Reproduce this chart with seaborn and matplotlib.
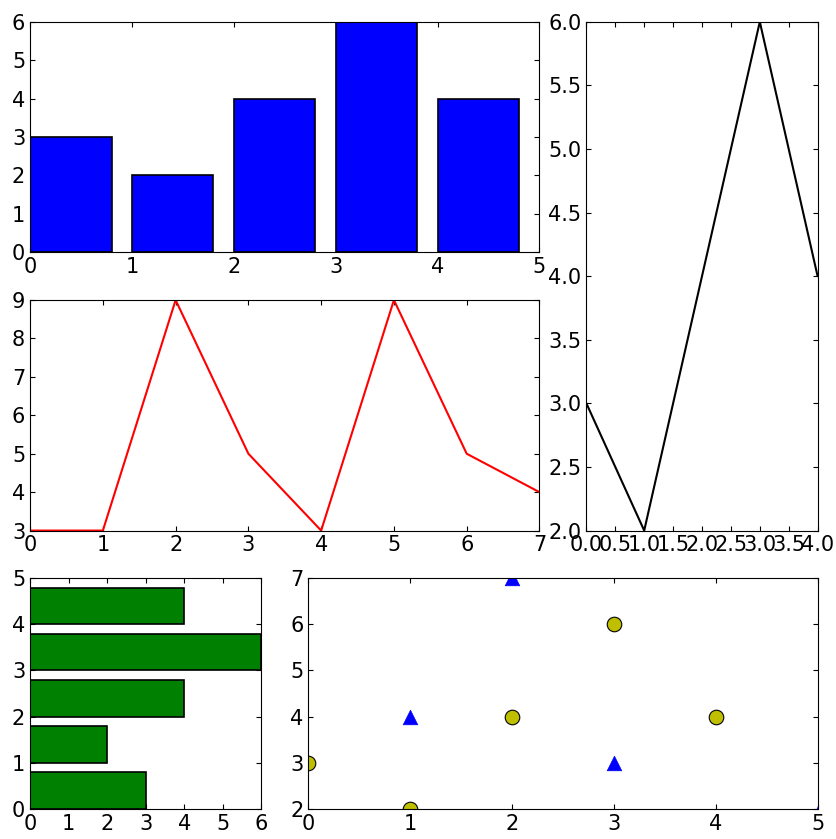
import numpy as np
import pandas as pd
import matplotlib
matplotlib.use('Agg')
import matplotlib.pyplot as plt
import seaborn as sns

# data
bar_pos = [0, 1, 2, 3, 4]
bar_vals = [3, 2, 4, 6, 4]

line_x = [0, 1, 2, 3, 4]
line_y = [3, 2, 4, 6, 4]

red_x = [0, 1, 2, 3, 4, 5, 6, 7]
red_y = [3, 3, 9, 5, 3, 9, 5, 4]

circ_x = [0, 1, 2, 3, 4]
circ_y = [3, 2, 4, 6, 4]
tri_x = [1, 2, 3, 5]
tri_y = [4, 7, 3, 1.9]

sns.set_style('ticks', rc={
    'xtick.direction': 'in', 'ytick.direction': 'in',
    'xtick.top': True, 'ytick.right': True,
    'xtick.major.size': 6.5, 'ytick.major.size': 6.5,
    'xtick.major.width': 1.0, 'ytick.major.width': 1.0,
    'xtick.major.pad': 5, 'ytick.major.pad': 5,
    'axes.linewidth': 1.3, 'axes.edgecolor': 'black',
    'xtick.color': 'black', 'ytick.color': 'black',
})
plt.rcParams['font.family'] = ['DejaVu Sans']
plt.rcParams['font.size'] = 15
plt.rcParams['xtick.labelsize'] = 15
plt.rcParams['ytick.labelsize'] = 15

fig = plt.figure(figsize=(8.36, 8.39), dpi=100)
gs = fig.add_gridspec(3, 3, left=0.036, right=0.978, top=0.974, bottom=0.036,
                      wspace=0.203, hspace=0.207)
ax1 = fig.add_subplot(gs[0, :2])
ax2 = fig.add_subplot(gs[:2, 2])
ax3 = fig.add_subplot(gs[1, :2])
ax4 = fig.add_subplot(gs[2, 0])
ax5 = fig.add_subplot(gs[2, 1:])

# top-left vertical bars (left edge aligned, width 0.8)
df_bar = pd.DataFrame({'pos': np.array(bar_pos) + 0.4, 'val': bar_vals})
sns.barplot(data=df_bar, x='pos', y='val', native_scale=True, color='blue',
            saturation=1, edgecolor='black', linewidth=1.2, width=0.8, ax=ax1)
ax1.set_xlim(0, 5)
ax1.set_ylim(0, 6)
ax1.set_xticks(range(0, 6))
ax1.set_yticks(range(0, 7))

# right tall black line
sns.lineplot(x=line_x, y=line_y, color='black', linewidth=1.5, ax=ax2)
ax2.set_xlim(0, 4)
ax2.set_ylim(2, 6)
ax2.set_xticks(np.arange(0, 4.01, 0.5))
ax2.set_yticks(np.arange(2, 6.01, 0.5))
ax2.xaxis.set_major_formatter(matplotlib.ticker.FormatStrFormatter('%.1f'))
ax2.yaxis.set_major_formatter(matplotlib.ticker.FormatStrFormatter('%.1f'))

# middle red line
sns.lineplot(x=red_x, y=red_y, color='red', linewidth=1.5, ax=ax3)
ax3.set_xlim(0, 7)
ax3.set_ylim(3, 9)
ax3.set_xticks(range(0, 8))
ax3.set_yticks(range(3, 10))

# bottom-left horizontal bars
df_barh = pd.DataFrame({'pos': np.array(bar_pos) + 0.4, 'val': bar_vals})
sns.barplot(data=df_barh, x='val', y='pos', orient='h', native_scale=True,
            color='green', saturation=1, edgecolor='black', linewidth=1.2,
            width=0.8, ax=ax4)
ax4.set_xlim(0, 6)
ax4.set_ylim(0, 5)
ax4.set_xticks(range(0, 7))
ax4.set_yticks(range(0, 6))

# bottom-right scatter
sns.scatterplot(x=circ_x, y=circ_y, marker='o', color='#bfbf00', edgecolor='black',
                linewidth=0.8, s=110, ax=ax5, zorder=3)
sns.scatterplot(x=tri_x, y=tri_y, marker='^', color='blue', edgecolor='blue',
                linewidth=0.5, s=110, ax=ax5, zorder=3)
ax5.set_xlim(0, 5)
ax5.set_ylim(2, 7)
ax5.set_xticks(range(0, 6))
ax5.set_yticks(range(2, 8))

for ax in (ax1, ax2, ax3, ax4, ax5):
    ax.set_xlabel('')
    ax.set_ylabel('')
    for sp in ax.spines.values():
        sp.set_visible(True)
        sp.set_zorder(5)

fig.savefig('out.png', dpi=100, facecolor='white')
